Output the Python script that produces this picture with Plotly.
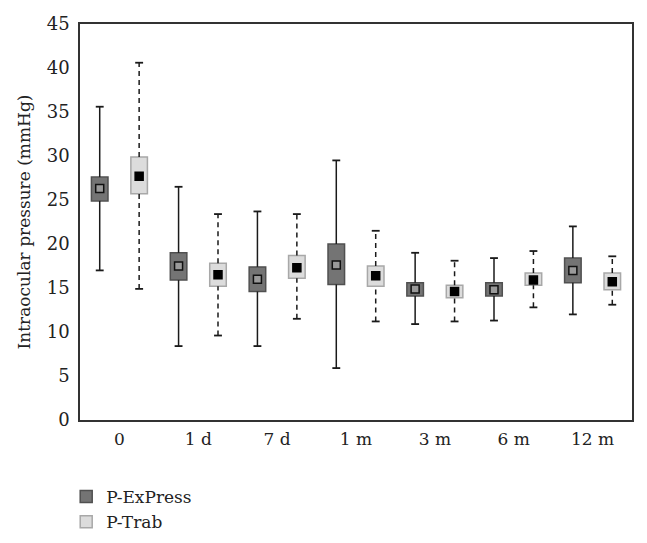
import plotly.graph_objects as go

categories = ["0", "1 d", "7 d", "1 m", "3 m", "6 m", "12 m"]

# P-ExPress
exp_min = [17.0, 8.4, 8.4, 5.9, 10.9, 11.3, 12.0]
exp_q1 = [24.9, 15.9, 14.6, 15.4, 14.1, 14.1, 15.6]
exp_mid = [26.3, 17.5, 16.0, 17.6, 14.9, 14.8, 17.0]
exp_q3 = [27.6, 19.0, 17.4, 20.0, 15.6, 15.6, 18.4]
exp_max = [35.6, 26.5, 23.7, 29.5, 19.0, 18.4, 22.0]

# P-Trab
trab_min = [14.9, 9.6, 11.5, 11.2, 11.2, 12.8, 13.1]
trab_q1 = [25.7, 15.2, 16.1, 15.2, 13.9, 15.3, 14.8]
trab_mid = [27.7, 16.5, 17.3, 16.4, 14.6, 15.9, 15.7]
trab_q3 = [29.9, 17.8, 18.7, 17.5, 15.3, 16.7, 16.7]
trab_max = [40.6, 23.4, 23.4, 21.5, 18.1, 19.2, 18.6]

OFFSET = 0.25
BOXW = 0.21
CAP = 0.05


def whisker_xy(xs, lo, q1, q3, hi):
    wx, wy = [], []
    for x, a, b, c, d in zip(xs, lo, q1, q3, hi):
        wx += [x, x, None, x, x, None]
        wy += [c, d, None, a, b, None]
    return wx, wy


def cap_xy(xs, lo, hi):
    cx, cy = [], []
    for x, a, d in zip(xs, lo, hi):
        cx += [x - CAP, x + CAP, None, x - CAP, x + CAP, None]
        cy += [d, d, None, a, a, None]
    return cx, cy


fig = go.Figure()

series = [
    dict(name="P-ExPress", off=-OFFSET, lo=exp_min, q1=exp_q1, mid=exp_mid, q3=exp_q3, hi=exp_max,
         fill="#747474", edge="#505050", dash="solid",
         mfill="#9a9a9a", medge="#111111"),
    dict(name="P-Trab", off=OFFSET, lo=trab_min, q1=trab_q1, mid=trab_mid, q3=trab_q3, hi=trab_max,
         fill="#dcdcdc", edge="#a8a8a8", dash="5px,4px",
         mfill="#000000", medge="#000000"),
]

for s in series:
    xs = [i + s["off"] for i in range(len(categories))]
    wx, wy = whisker_xy(xs, s["lo"], s["q1"], s["q3"], s["hi"])
    fig.add_trace(go.Scatter(x=wx, y=wy, mode="lines", showlegend=False, hoverinfo="skip",
                             line=dict(color="#1a1a1a", width=1.5, dash=s["dash"])))
    cx, cy = cap_xy(xs, s["lo"], s["hi"])
    fig.add_trace(go.Scatter(x=cx, y=cy, mode="lines", showlegend=False, hoverinfo="skip",
                             line=dict(color="#1a1a1a", width=1.8)))
    fig.add_trace(go.Bar(x=xs, y=[c - a for a, c in zip(s["q1"], s["q3"])], base=s["q1"],
                         width=BOXW, name=s["name"],
                         marker=dict(color=s["fill"], line=dict(color=s["edge"], width=1.5))))
    fig.add_trace(go.Scatter(x=xs, y=s["mid"], mode="markers", showlegend=False,
                             marker=dict(symbol="square", size=8, color=s["mfill"],
                                         line=dict(color=s["medge"], width=1.5))))

font_family = "DejaVu Serif, Liberation Serif, serif"

fig.update_layout(
    width=647, height=543,
    margin=dict(l=72, r=23, t=15.5, b=131, autoexpand=False),
    plot_bgcolor="white", paper_bgcolor="white",
    barmode="overlay",
    font=dict(family=font_family, size=17, color="#222222"),
    showlegend=True,
    legend=dict(x=-0.025, y=-0.149, xanchor="left", yanchor="top",
                font=dict(size=17, family=font_family), traceorder="normal",
                tracegroupgap=8, bgcolor="rgba(0,0,0,0)"),
    xaxis=dict(range=[-0.5, 6.5], tickmode="array", tickvals=list(range(len(categories))),
               ticktext=categories, showgrid=False, zeroline=False,
               showline=True, linecolor="#333333", linewidth=1.5, mirror=True,
               ticks="", tickfont=dict(size=17), automargin=False, ticklabelstandoff=3),
    yaxis=dict(range=[0, 45], dtick=5, showgrid=False, zeroline=False,
               showline=True, linecolor="#333333", linewidth=1.5, mirror=True,
               ticks="", tickfont=dict(size=18), automargin=False, ticklabelstandoff=5,
               title=dict(text="Intraocular pressure (mmHg)", font=dict(size=17), standoff=12)),
)

fig.write_html("out.html")
